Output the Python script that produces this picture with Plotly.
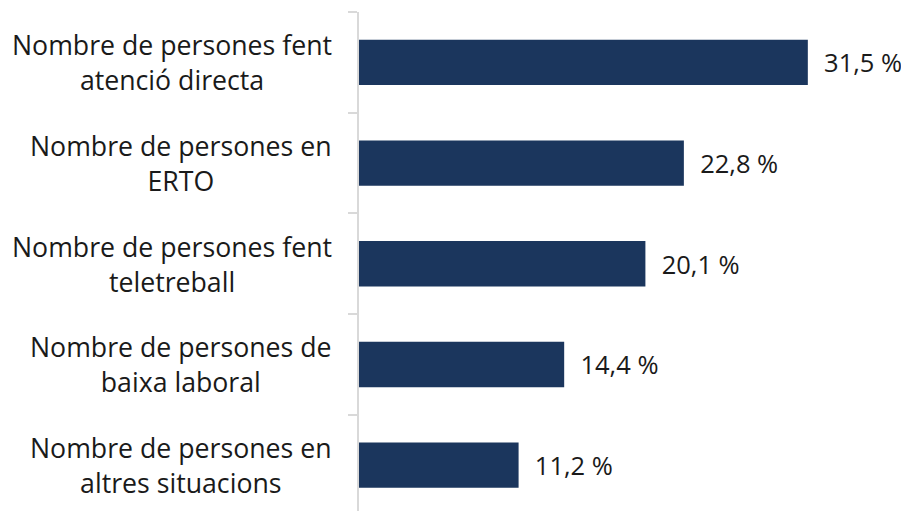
import plotly.graph_objects as go

categories = [
    "Nombre de persones fent<br>atenció directa",
    "Nombre de persones en<br>ERTO",
    "Nombre de persones fent<br>teletreball",
    "Nombre de persones de<br>baixa laboral",
    "Nombre de persones en<br>altres situacions",
]
values = [31.5, 22.8, 20.1, 14.4, 11.2]
value_labels = ["31,5 %", "22,8 %", "20,1 %", "14,4 %", "11,2 %"]

fig = go.Figure()

fig.add_trace(
    go.Bar(
        x=values, y=categories,
        orientation='h',
        width=0.45,
        marker=dict(color='#1b365d', line=dict(width=0)),
        text=value_labels,
        textposition='outside',
        texttemplate='  %{text}',
        textfont=dict(family='Open Sans', size=25.5, color='#1a1a1a'),
        cliponaxis=False,
    )
)

# etiquetes de categoria centrades (les del eix queden alineades a la dreta)
for cat in categories:
    fig.add_annotation(
        x=0, y=cat, xref='x', yref='y',
        text=cat, showarrow=False,
        xanchor='right', yanchor='middle',
        align='center', xshift=-25,
        font=dict(family='Open Sans', size=26.7, color='#1a1a1a'),
    )

# la pàgina té 8 px de marge al body: es compensa aquí
fig.update_layout(
    width=901, height=503,
    margin=dict(l=351, r=0, t=4, b=0),
    plot_bgcolor='white',
    paper_bgcolor='white',
    showlegend=False,
    font=dict(family='Open Sans', size=25, color='#1a1a1a'),
)

fig.update_xaxes(
    range=[0, 38.6],
    visible=False,
    showgrid=False,
    zeroline=False,
)

fig.update_yaxes(
    type='category',
    categoryorder='array',
    categoryarray=categories,
    range=[4.455, -0.5],
    showline=True, linecolor='#d9d9d9', linewidth=2,
    ticks='outside', tickson='boundaries', ticklen=9,
    tickcolor='#d9d9d9', tickwidth=2,
    showgrid=False,
    showticklabels=False,
)

fig.write_html("out.html")
